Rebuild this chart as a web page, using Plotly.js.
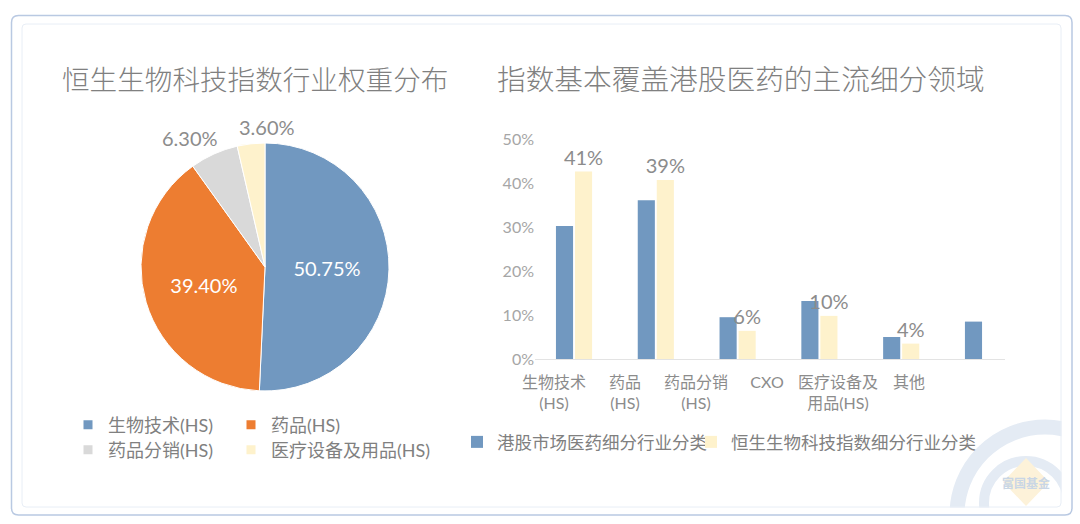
<!DOCTYPE html>
<html><head><meta charset="utf-8">
<script src="https://cdn.plot.ly/plotly-3.0.1.min.js"></script>
<style>html,body{margin:0;padding:0;background:#fff}#chart{width:1080px;height:524px}</style>
</head><body><div id="chart"></div>
<script>
// ---- data ----
const pieLabels = ['生物技术(HS)', '药品(HS)', '药品分销(HS)', '医疗设备及用品(HS)'];
const pieValues = [50.75, 39.40, 6.30, 3.60];
const pieColors = ['#7198C0', '#ED7D31', '#D9D9D9', '#FEF2CC'];

const barCategories = ['生物技术<br>(HS)', '药品<br>(HS)', '药品分销<br>(HS)', 'CXO', '医疗设备及<br>用品(HS)', '其他'];
const marketShare = [30.2, 36.1, 9.5, 13.2, 5.0, 8.5];
const indexShare = [42.6, 40.7, 6.4, 9.8, 3.5, null];
const indexLabels = ['41%', '39%', '6%', '10%', '4%', ''];
const seriesNames = ['港股市场医药细分行业分类', '恒生生物科技指数细分行业分类'];
const seriesColors = ['#7198C0', '#FEF2CC'];
const yTicks = [0, 10, 20, 30, 40, 50];

const leftTitle = '恒生生物科技指数行业权重分布';
const rightTitle = '指数基本覆盖港股医药的主流细分领域';
const watermarkText = '富国基金';

// ---- styles / geometry ----
const W = 1080, H = 524;
const px = x => x / W;
const py = y => 1 - y / H;
const F = "Lato, 'Noto Sans CJK SC', sans-serif";
const CJK = "'Noto Sans CJK SC', sans-serif";
const GRAY = '#808080';
const PIE_CX = 265, PIE_CY = 267, PIE_R = 124;
const pieTextPos = ['inside', 'inside', 'outside', 'outside'];
const pieLabelShift = [0, 0, -17, 18];

function roundRect(x0, y0, x1, y1, r) {
  return `M${px(x0 + r)},${py(y0)} L${px(x1 - r)},${py(y0)} Q${px(x1)},${py(y0)} ${px(x1)},${py(y0 + r)} ` +
         `L${px(x1)},${py(y1 - r)} Q${px(x1)},${py(y1)} ${px(x1 - r)},${py(y1)} ` +
         `L${px(x0 + r)},${py(y1)} Q${px(x0)},${py(y1)} ${px(x0)},${py(y1 - r)} ` +
         `L${px(x0)},${py(y0 + r)} Q${px(x0)},${py(y0)} ${px(x0 + r)},${py(y0)} Z`;
}
function circle(cx, cy, r, color, w) {
  return {type: 'circle', xref: 'paper', yref: 'paper', layer: 'below',
    x0: px(cx - r), x1: px(cx + r), y0: py(cy + r), y1: py(cy - r),
    line: {color: color, width: w}};
}

// ---- traces ----
const traces = [];
traces.push({
  type: 'pie', labels: pieLabels, values: pieValues, sort: false,
  direction: 'clockwise', rotation: 0,
  marker: {colors: pieColors, line: {color: '#ffffff', width: 1}},
  texttemplate: '%{value:.2f}%',
  textposition: pieTextPos.map(p => p === 'inside' ? 'inside' : 'none'),
  insidetextorientation: 'horizontal',
  textfont: {family: F, size: 20, color: '#ffffff'},
  domain: {x: [px(PIE_CX - PIE_R), px(PIE_CX + PIE_R)], y: [py(PIE_CY + PIE_R), py(PIE_CY - PIE_R)]},
  showlegend: false, hoverinfo: 'label+value'
});
// legend entries of the pie (2 x 2 grid, one legend per row)
pieLabels.forEach((lab, i) => {
  traces.push({
    type: 'scatter', mode: 'markers', x: [null], y: [null], xaxis: 'x2', yaxis: 'y',
    name: lab, marker: {symbol: 'square', size: 9, color: pieColors[i]},
    legend: i < 2 ? 'legend' : 'legend3', legendwidth: i % 2 === 0 ? 118 : 200,
    hoverinfo: 'skip'
  });
});
traces.push({
  type: 'bar', name: seriesNames[0], x: barCategories, y: marketShare,
  marker: {color: seriesColors[0]}, legend: 'legend2', hoverinfo: 'y'
});
traces.push({
  type: 'bar', name: seriesNames[1], x: barCategories, y: indexShare,
  marker: {color: seriesColors[1]}, legend: 'legend4',
  text: indexLabels, textposition: 'outside', constraintext: 'none', cliponaxis: false,
  textfont: {family: F, size: 20, color: '#8c8c8c'}, hoverinfo: 'y'
});

// ---- decorations ----
const shapes = [
  circle(1045, 515, 88, '#e4ebf4', 15),
  circle(1026, 503, 42, '#e4ebf4', 10),
  {type: 'path', xref: 'paper', yref: 'paper', layer: 'below',
   path: `M${px(1026)},${py(458)} L${px(1049)},${py(482)} L${px(1026)},${py(506)} L${px(1003)},${py(482)} Z`,
   fillcolor: '#fdf2d9', line: {width: 0}},
  {type: 'rect', xref: 'paper', yref: 'paper', layer: 'below',
   x0: 0, x1: 1, y0: 0, y1: py(507.5), fillcolor: '#ffffff', line: {width: 0}},
  {type: 'rect', xref: 'paper', yref: 'paper', layer: 'below',
   x0: px(1061.5), x1: 1, y0: 0, y1: 1, fillcolor: '#ffffff', line: {width: 0}},
  {type: 'path', xref: 'paper', yref: 'paper', layer: 'below',
   path: roundRect(22, 24, 1061, 507, 4), line: {color: '#e8eef6', width: 1}},
  {type: 'path', xref: 'paper', yref: 'paper', layer: 'below',
   path: roundRect(11.5, 15.5, 1072, 515, 7), line: {color: '#b9c9e2', width: 1.5}}
];

const annotations = [
  {text: leftTitle, xref: 'paper', yref: 'paper', x: px(255), y: py(78), xanchor: 'center', yanchor: 'middle',
   showarrow: false, font: {family: CJK, size: 27.6, color: GRAY, weight: 300}},
  {text: rightTitle, xref: 'paper', yref: 'paper', x: px(741), y: py(78), xanchor: 'center', yanchor: 'middle',
   showarrow: false, font: {family: CJK, size: 28.7, color: GRAY, weight: 300}},
  {text: '<b>' + watermarkText + '</b>', xref: 'paper', yref: 'paper', x: px(1026), y: py(482),
   xanchor: 'center', yanchor: 'middle',
   showarrow: false, font: {family: CJK, size: 12, color: '#c9d6e5'}}
];
// outside labels of the small pie slices, placed at each slice's mid-angle
const pieTotal = pieValues.reduce((a, b) => a + b, 0);
let cum = 0;
pieValues.forEach((v, i) => {
  const mid = (cum + v / 2) / pieTotal * 2 * Math.PI;
  cum += v;
  if (pieTextPos[i] !== 'outside') return;
  const r = PIE_R + 17;
  annotations.push({
    text: v.toFixed(2) + '%', xref: 'paper', yref: 'paper',
    x: px(PIE_CX + r * Math.sin(mid)), y: py(PIE_CY - r * Math.cos(mid)),
    xanchor: 'center', yanchor: 'middle', xshift: pieLabelShift[i], showarrow: false,
    font: {family: F, size: 20, color: '#8c8c8c'}
  });
});

const legendBase = {
  orientation: 'h', xanchor: 'left', yanchor: 'middle', bgcolor: 'rgba(0,0,0,0)',
  font: {family: F, size: 18, color: GRAY}, itemclick: false, itemdoubleclick: false
};
const barLegendFont = {family: F, size: 17.5, color: GRAY};

const layout = {
  width: W, height: H, margin: {l: 0, r: 0, t: 0, b: 0},
  paper_bgcolor: '#ffffff', plot_bgcolor: 'rgba(0,0,0,0)',
  font: {family: F, color: GRAY},
  barmode: 'group', bargap: 0.535, bargroupgap: 0.1,
  xaxis: {domain: [px(535), px(1005)], type: 'category', range: [-0.477, 5.269],
    showticklabels: false, ticks: '', showgrid: false, zeroline: false,
    showline: true, linecolor: '#e3e3e3', linewidth: 1, fixedrange: true},
  xaxis2: {overlaying: 'x', anchor: 'y', type: 'linear', range: [-0.268, 6.352],
    tickmode: 'array', tickvals: barCategories.map((_, i) => i), ticktext: barCategories,
    ticks: '', showgrid: false, zeroline: false, showline: false, fixedrange: true,
    ticklabelstandoff: 12, tickfont: {family: F, size: 16, color: '#8c8c8c'}},
  yaxis: {domain: [py(359), py(139)], range: [0, 50], tickmode: 'array', tickvals: yTicks,
    ticktext: yTicks.map(v => v + '%'), ticks: '', showgrid: false, zeroline: false, showline: false,
    fixedrange: true, tickfont: {family: F, size: 16, color: '#a6a6a6'}},
  legend: Object.assign({}, legendBase, {x: px(68), y: py(425)}),
  legend3: Object.assign({}, legendBase, {x: px(68), y: py(450)}),
  legend2: Object.assign({}, legendBase, {x: px(457), y: py(442), font: barLegendFont}),
  legend4: Object.assign({}, legendBase, {x: px(691), y: py(442), font: barLegendFont}),
  shapes: shapes,
  annotations: annotations
};

Plotly.newPlot('chart', traces, layout, {displayModeBar: false});
</script>
</body></html>
